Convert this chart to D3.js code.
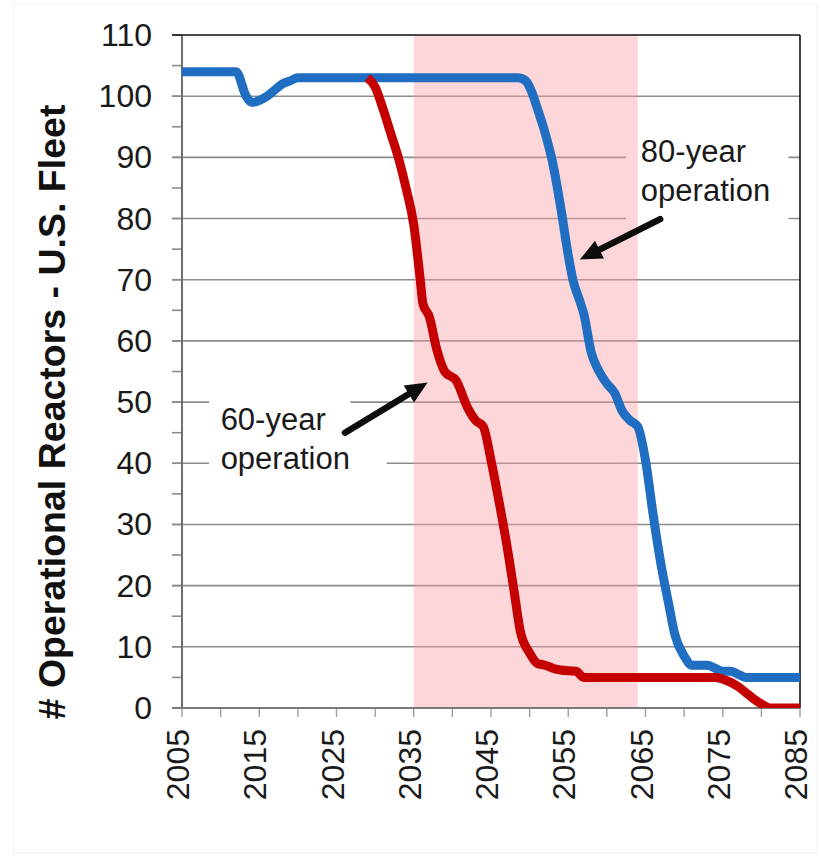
<!DOCTYPE html>
<html>
<head>
<meta charset="utf-8">
<script src="https://cdn.jsdelivr.net/npm/d3@7"></script>
<style>
  html, body { margin: 0; padding: 0; background: #fff; }
  svg { display: block; font-family: "Liberation Sans", Arial, Helvetica, sans-serif; }
</style>
</head>
<body>
<svg id="chart" width="821" height="857"></svg>
<script>
// ---- Data ----
const years80 = [2005, 2012, 2013.3, 2014, 2016, 2017, 2018, 2019, 2020, 2048.5, 2049.5, 2050.3, 2051, 2052, 2053, 2054, 2055, 2055.6, 2056.5, 2057, 2058, 2059, 2060, 2061, 2062, 2063, 2064, 2065, 2066, 2067, 2068, 2068.8, 2070, 2071, 2073, 2074, 2075, 2076, 2077, 2078, 2085];
const values80 = [104, 104, 100, 99, 100, 101, 102, 102.5, 103, 103, 102.5, 100.6, 98, 94, 89, 82, 74, 70, 66.5, 64.5, 58, 55, 53, 51.5, 48.5, 47, 46, 40.5, 31.5, 23.5, 17, 12, 8.5, 7, 7, 6.5, 6, 6, 5.5, 5, 5];

const years60 = [2029, 2030, 2031, 2032, 2033, 2034, 2035, 2035.8, 2036.2, 2037, 2038, 2039, 2040.5, 2042, 2043, 2044, 2045, 2046, 2047, 2048, 2048.8, 2050, 2051, 2052, 2053, 2054, 2056, 2057, 2074, 2075.5, 2077, 2078, 2079, 2080.5, 2081, 2085];
const values60 = [103, 101.5, 98, 94, 90, 85, 79, 70.5, 66, 64, 58.5, 55, 53.5, 49, 47, 46, 40.5, 34, 27, 19, 12.5, 9, 7.3, 7, 6.5, 6.2, 6, 5, 5, 4.5, 3.5, 2.5, 1.5, 0.3, 0, 0];

const xTickLabels = [2005, 2015, 2025, 2035, 2045, 2055, 2065, 2075, 2085];
const yTickLabels = [0, 10, 20, 30, 40, 50, 60, 70, 80, 90, 100, 110];
const bandYears = [2035, 2064];
const yAxisTitle = "# Operational Reactors - U.S. Fleet";
const label60 = ["60-year", "operation"];
const label80 = ["80-year", "operation"];

// annotation anchors in data units [year, value]
const label60Pos = [2010.0, 45.5, 39.0];
const label80Pos = [2064.4, 89.2, 82.8];
const arrow60 = [[2026.1, 45.0], [2036.8, 53.2]];
const arrow80 = [[2066.9, 79.9], [2056.5, 73.3]];

// ---- Layout ----
const W = 821, H = 857;
const margin = { left: 182, top: 35, right: 21, bottom: 149 };
const pw = W - margin.left - margin.right;
const ph = H - margin.top - margin.bottom;

const svg = d3.select("#chart");
svg.append("rect").attr("width", W).attr("height", H).attr("fill", "#fff");
svg.append("rect").attr("x", 14).attr("y", 4).attr("width", W - 18).attr("height", H - 8)
  .attr("fill", "none").attr("stroke", "#f0f0f0").attr("stroke-width", 1);

const g = svg.append("g").attr("transform", `translate(${margin.left},${margin.top})`);

const x = d3.scaleLinear().domain([2005, 2085]).range([0, pw]);
const y = d3.scaleLinear().domain([0, 110]).range([ph, 0]);

// gridlines
const gridVals = d3.range(10, 101, 10);
g.append("g").selectAll("line").data(gridVals).join("line")
  .attr("x1", -10).attr("x2", pw)
  .attr("y1", d => y(d)).attr("y2", d => y(d))
  .attr("stroke", "#8c8c8c").attr("stroke-width", 1.6);

// white boxes behind the annotation text (hide gridlines)
function box(x0, x1, v0, v1) {
  g.append("rect").attr("x", x(x0)).attr("y", y(v0))
    .attr("width", x(x1) - x(x0)).attr("height", y(v1) - y(v0)).attr("fill", "#fff");
}
box(2008.5, 2026.8, 51.5, 43);
box(2008.5, 2031.5, 43, 36);
box(2062.5, 2083.5, 93, 77);

// pink band
g.append("rect")
  .attr("x", x(bandYears[0])).attr("y", 0)
  .attr("width", x(bandYears[1]) - x(bandYears[0])).attr("height", ph)
  .attr("fill", "#fa9ea8").attr("fill-opacity", 0.42);

// y minor ticks (5s) and major ticks
g.append("g").selectAll("line").data(d3.range(0, 111, 5)).join("line")
  .attr("x1", -10).attr("x2", 0)
  .attr("y1", d => y(d)).attr("y2", d => y(d))
  .attr("stroke", "#8c8c8c").attr("stroke-width", 1.6);

// x ticks every 5 years
g.append("g").selectAll("line").data(d3.range(2005, 2086, 5)).join("line")
  .attr("x1", d => x(d)).attr("x2", d => x(d))
  .attr("y1", ph).attr("y2", ph + 9)
  .attr("stroke", "#a0a0a0").attr("stroke-width", 1.4);

// axes lines
g.append("line").attr("x1", 0).attr("x2", 0).attr("y1", 0).attr("y2", ph)
  .attr("stroke", "#6e6e6e").attr("stroke-width", 2);
g.append("line").attr("x1", -10).attr("x2", pw).attr("y1", ph).attr("y2", ph)
  .attr("stroke", "#7a7a7a").attr("stroke-width", 2);
g.append("line").attr("x1", -10).attr("x2", pw).attr("y1", 0).attr("y2", 0)
  .attr("stroke", "#111").attr("stroke-width", 1.6);
g.append("line").attr("x1", pw).attr("x2", pw).attr("y1", 0).attr("y2", ph)
  .attr("stroke", "#111").attr("stroke-width", 1.6);

// y tick labels
g.append("g").selectAll("text").data(yTickLabels).join("text")
  .attr("x", -30).attr("y", d => y(d))
  .attr("text-anchor", "end").attr("dominant-baseline", "central")
  .attr("font-size", 32).attr("fill", "#1a1a1a")
  .text(d => d);

// x tick labels (rotated)
g.append("g").selectAll("text").data(xTickLabels).join("text")
  .attr("transform", d => `translate(${x(d) - 4},${ph + 21}) rotate(-90)`)
  .attr("text-anchor", "end").attr("dominant-baseline", "central")
  .attr("font-size", 32).attr("fill", "#1a1a1a")
  .text(d => d);

// y axis title
svg.append("text")
  .attr("transform", `translate(52,412) rotate(-90)`)
  .attr("text-anchor", "middle").attr("dominant-baseline", "central")
  .attr("font-size", 37.5).attr("font-weight", "bold").attr("fill", "#111")
  .text(yAxisTitle);

// clip
svg.append("defs").append("clipPath").attr("id", "plotclip")
  .append("rect").attr("x", 0).attr("y", -10).attr("width", pw).attr("height", ph + 10);

const line = d3.line().x(d => x(d[0])).y(d => y(d[1])).curve(d3.curveMonotoneX);
const data80 = years80.map((yr, i) => [yr, values80[i]]);
const data60 = years60.map((yr, i) => [yr, values60[i]]);

const lines = g.append("g").attr("clip-path", "url(#plotclip)");
lines.append("path").datum(data80).attr("d", line)
  .attr("fill", "none").attr("stroke", "#1f6ec2").attr("stroke-width", 9)
  .attr("stroke-linejoin", "round").attr("stroke-linecap", "butt");
lines.append("path").datum(data60).attr("d", line)
  .attr("fill", "none").attr("stroke", "#c40000").attr("stroke-width", 9)
  .attr("stroke-linejoin", "round").attr("stroke-linecap", "butt");

// annotation text
function label(lines2, pos) {
  g.append("text").attr("x", x(pos[0])).attr("y", y(pos[1]))
    .attr("font-size", 31).attr("fill", "#1a1a1a").text(lines2[0]);
  g.append("text").attr("x", x(pos[0])).attr("y", y(pos[2]))
    .attr("font-size", 31).attr("fill", "#1a1a1a").text(lines2[1]);
}
label(label60, label60Pos);
label(label80, label80Pos);

// arrows
function arrow(a) {
  const x0 = x(a[0][0]), y0 = y(a[0][1]), x1 = x(a[1][0]), y1 = y(a[1][1]);
  const ang = Math.atan2(y1 - y0, x1 - x0);
  const hl = 22, hw = 10;
  const bx = x1 - hl * Math.cos(ang), by = y1 - hl * Math.sin(ang);
  g.append("line").attr("x1", x0).attr("y1", y0).attr("x2", bx).attr("y2", by)
    .attr("stroke", "#0d0d0d").attr("stroke-width", 6.5).attr("stroke-linecap", "round");
  const px = -Math.sin(ang) * hw, py = Math.cos(ang) * hw;
  g.append("path")
    .attr("d", `M${x1},${y1}L${bx + px},${by + py}L${bx - px},${by - py}Z`)
    .attr("fill", "#0d0d0d");
}
arrow(arrow60);
arrow(arrow80);
</script>
</body>
</html>
